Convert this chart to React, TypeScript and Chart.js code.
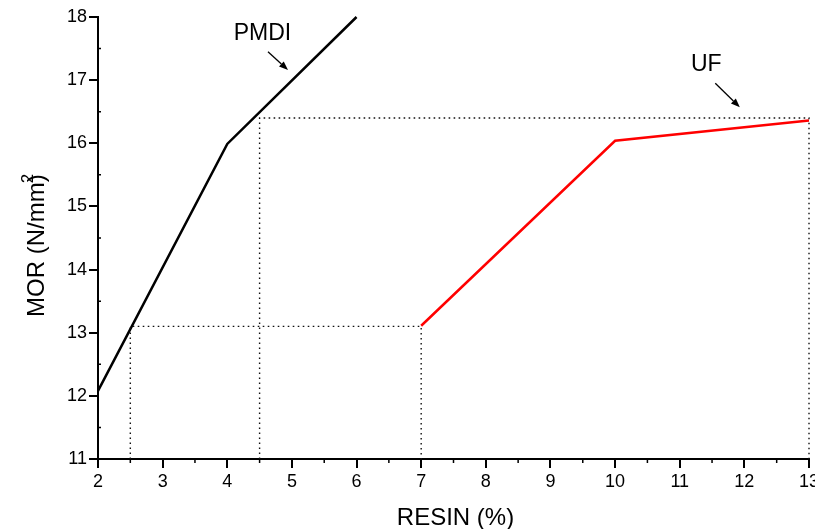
import React, { useEffect, useRef } from "react";
import { Chart, registerables } from "chart.js";

Chart.register(...registerables);

// ---- data ----
const resinPMDI = [2, 4, 6];
const morPMDI = [12.08, 15.99, 18.0];
const resinUF = [7, 10, 13];
const morUF = [13.11, 16.04, 16.36];

// dotted guide lines
const guideLowX = [2.5, 2.5, 7, 7];
const guideLowY = [11, 13.1, 13.1, 11];
const guideHighX = [4.5, 4.5, 13, 13];
const guideHighY = [11, 16.4, 16.4, 11];

// axes
const xMin = 2;
const xMax = 13;
const yMin = 11;
const yMax = 18;
const xTitle = "RESIN (%)";
const yTitleMain = "MOR (N/mm";
const yTitleSup = "2";

// annotation labels (data coordinates)
const annLabels = ["PMDI", "UF"];
const annLabelX = [4.545, 11.41];
const annLabelY = [17.636, 17.145];
const annArrowFromX = [4.63, 11.55];
const annArrowFromY = [17.45, 16.95];
const annArrowToX = [4.94, 11.93];
const annArrowToY = [17.16, 16.57];

const FONT = "'Liberation Sans', Arial, Helvetica, sans-serif";

const toPts = (xs: number[], ys: number[]) => xs.map((x, i) => ({ x, y: ys[i] }));

const customPlugin = {
  id: "custom",
  afterDraw(chart: any) {
    const { ctx, chartArea, scales } = chart;
    const xs = scales.x;
    const ys = scales.y;
    ctx.save();
    // minor ticks
    ctx.strokeStyle = "#000";
    ctx.lineWidth = 1.5;
    ctx.beginPath();
    for (let v = xMin + 0.5; v < xMax; v += 1) {
      const px = xs.getPixelForValue(v);
      ctx.moveTo(px, chartArea.bottom);
      ctx.lineTo(px, chartArea.bottom + 4);
    }
    for (let v = yMin + 0.5; v < yMax; v += 1) {
      const py = ys.getPixelForValue(v);
      ctx.moveTo(chartArea.left, py);
      ctx.lineTo(chartArea.left + 3, py);
    }
    ctx.stroke();

    // annotations
    ctx.fillStyle = "#000";
    ctx.font = `23px ${FONT}`;
    ctx.textAlign = "center";
    ctx.textBaseline = "alphabetic";
    annLabels.forEach((lab, i) => {
      ctx.fillText(lab, xs.getPixelForValue(annLabelX[i]), ys.getPixelForValue(annLabelY[i]));
      const x0 = xs.getPixelForValue(annArrowFromX[i]);
      const y0 = ys.getPixelForValue(annArrowFromY[i]);
      const x1 = xs.getPixelForValue(annArrowToX[i]);
      const y1 = ys.getPixelForValue(annArrowToY[i]);
      const ang = Math.atan2(y1 - y0, x1 - x0);
      const hl = 9;
      const hw = 3.5;
      ctx.lineWidth = 1.3;
      ctx.beginPath();
      ctx.moveTo(x0, y0);
      ctx.lineTo(x1 - hl * Math.cos(ang), y1 - hl * Math.sin(ang));
      ctx.stroke();
      ctx.beginPath();
      ctx.moveTo(x1, y1);
      ctx.lineTo(
        x1 - hl * Math.cos(ang) + hw * Math.sin(ang),
        y1 - hl * Math.sin(ang) - hw * Math.cos(ang)
      );
      ctx.lineTo(
        x1 - hl * Math.cos(ang) - hw * Math.sin(ang),
        y1 - hl * Math.sin(ang) + hw * Math.cos(ang)
      );
      ctx.closePath();
      ctx.fill();
    });

    // x title
    ctx.font = `24px ${FONT}`;
    ctx.textAlign = "center";
    ctx.fillText(xTitle, (chartArea.left + chartArea.right) / 2 + 2, chartArea.bottom + 66);

    // y title (rotated)
    ctx.translate(44, 317);
    ctx.rotate(-Math.PI / 2);
    ctx.textAlign = "left";
    ctx.font = `24px ${FONT}`;
    ctx.fillText(yTitleMain, 0, 0);
    const w = ctx.measureText(yTitleMain).width;
    ctx.fillText(")", w, 0);
    ctx.font = `17px ${FONT}`;
    ctx.fillText(yTitleSup, w - 1, -11);
    ctx.restore();
  },
};

export default function App() {
  const ref = useRef<HTMLCanvasElement | null>(null);
  useEffect(() => {
    if (!ref.current) return;
    const guideStyle = {
      borderColor: "#111",
      borderWidth: 1.4,
      borderDash: [1.6, 3.4],
      pointRadius: 0,
      fill: false,
      clip: 6,
    };
    const chart = new Chart(ref.current, {
      type: "line",
      data: {
        datasets: [
          { label: "guideLow", data: toPts(guideLowX, guideLowY), ...guideStyle },
          { label: "guideHigh", data: toPts(guideHighX, guideHighY), ...guideStyle },
          {
            label: "PMDI",
            data: toPts(resinPMDI, morPMDI),
            borderColor: "#000",
            borderWidth: 2.5,
            pointRadius: 0,
            fill: false,
            clip: 6,
          },
          {
            label: "UF",
            data: toPts(resinUF, morUF),
            borderColor: "#ff0000",
            borderWidth: 2.5,
            pointRadius: 0,
            fill: false,
            clip: 6,
          },
        ],
      },
      options: {
        animation: false,
        responsive: false,
        devicePixelRatio: 1,
        layout: { padding: { left: 0, top: 17, right: 6, bottom: 0 } },
        plugins: { legend: { display: false }, tooltip: { enabled: false } },
        scales: {
          x: {
            type: "linear",
            min: xMin,
            max: xMax,
            ticks: {
              stepSize: 1,
              color: "#000",
              font: { family: FONT, size: 18 },
              padding: 3,
              maxRotation: 0,
              autoSkip: false,
            },
            grid: {
              drawOnChartArea: false,
              drawTicks: true,
              tickLength: 9,
              color: "#000",
              lineWidth: 2,
            },
            border: { display: true, color: "#000", width: 2 },
            afterFit: (s: any) => {
              s.height = 70;
              s.paddingLeft = 0;
              s.paddingRight = 0;
            },
          },
          y: {
            type: "linear",
            min: yMin,
            max: yMax,
            ticks: {
              stepSize: 1,
              color: "#000",
              font: { family: FONT, size: 18 },
              padding: 2,
              autoSkip: false,
            },
            grid: {
              drawOnChartArea: false,
              drawTicks: true,
              tickLength: 9,
              color: "#000",
              lineWidth: 2,
            },
            border: { display: true, color: "#000", width: 2 },
            afterFit: (s: any) => {
              s.width = 98;
              s.paddingTop = 0;
              s.paddingBottom = 0;
            },
          },
        },
      } as any,
      plugins: [customPlugin],
    });
    return () => chart.destroy();
  }, []);
  return (
    <div style={{ position: "absolute", left: 0, top: 0, width: 815, height: 529, background: "#fff" }}>
      <canvas ref={ref} width={815} height={529} style={{ width: 815, height: 529 }} />
    </div>
  );
}
